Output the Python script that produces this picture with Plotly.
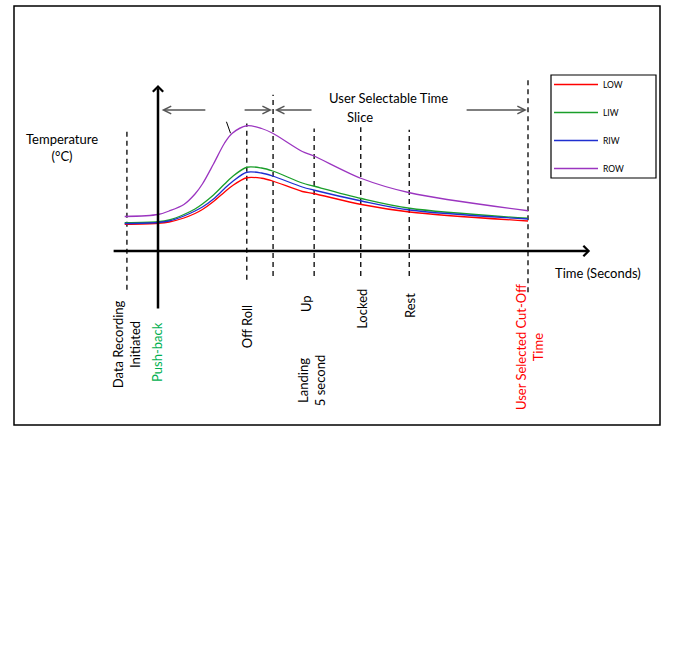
import plotly.graph_objects as go

# time in arbitrary units: push-back = 0, user cut-off = 100
t = [-9, 0, 3, 7, 10, 12, 15, 18, 20, 24, 28, 31, 39, 42, 55, 68, 100]

low = [21.4, 22.2, 23.2, 26.4, 30, 33.2, 39.6, 47.2, 52, 58.6, 58.2, 56, 47.6, 46, 37.2, 31.2, 24]
liw = [22.6, 23.4, 24.8, 29.2, 33.6, 37.6, 44.8, 53.6, 59.2, 67, 66.4, 64, 54.4, 52, 42, 34.2, 26.2]
riw = [22, 22.8, 24, 28, 32, 35.2, 41.6, 50, 55.2, 63, 62.4, 60, 51.2, 48.8, 40, 32.8, 25.6]
row = [27.6, 29.2, 32, 37.2, 45.6, 53.6, 69.6, 86.4, 94, 100.2, 98, 94.2, 79.6, 76.2, 58, 46.6, 32.2]

series_names = ["LOW", "LIW", "RIW", "ROW"]
series_colors = ["#FF0000", "#1A9E2A", "#1F2FD0", "#9B35C0"]

# dashed event lines (time, top, bottom in temperature units)
event_t = [-8.4, 24, 31.1, 42.2, 54.8, 67.9, 100]
event_top = [98, 102, 125, 98, 99, 97, 137]
event_bottom = [-31, -23, -20, -20, -20, -20, -33]

# rotated event labels
label_text = ["Data Recording<br>Initiated", "Push-back", "Off Roll", "Up",
              "Landing<br>5 second", "Locked", "Rest", "User Selected Cut-Off<br>Time"]
label_t = [-8.6, -0.3, 24.1, 40.0, 41.4, 55.1, 68.1, 100.3]
label_T = [-74.4, -80.8, -60.8, -42.4, -104, -46.4, -43.2, -76.8]
label_color = ["black", "#00B050", "black", "black", "black", "black", "black", "#FF0000"]

# "time slice" arrows at the top: (head t, tail t)
slice_arrows = [(1.0, 13.2), (30.8, 23.0), (31.6, 41.9), (99.7, 83.0)]
slice_T = 112.8

# small leader tick near the ROW peak
leader_t = [18.5, 19.6]
leader_T = [103.4, 94.2]

# mapping of the page: pixel = X0 + t * PX_T, temperature = (Y0 - pixel) * T_PX
W, H = 690, 647
X0, PX_T = 158, 3.7
Y0, T_PX = 251, 0.8
x_range = [(0 - X0) / PX_T, (W - X0) / PX_T]
y_range = [(Y0 - H) * T_PX, Y0 * T_PX]

FONT = "Lato, 'Open Sans', sans-serif"

fig = go.Figure()

# dashed event lines
for et, top, bot in zip(event_t, event_top, event_bottom):
    fig.add_trace(
        go.Scatter(
            x=[et, et], y=[bot, top], mode="lines",
            line=dict(color="black", width=1.3, dash="5px,4px"),
            showlegend=False, hoverinfo="skip",
        )
    )

fig.add_trace(
    go.Scatter(
        x=leader_t, y=leader_T, mode="lines",
        line=dict(color="black", width=1),
        showlegend=False, hoverinfo="skip",
    )
)

# temperature curves
for name, values, color in zip(series_names, [low, liw, riw, row], series_colors):
    fig.add_trace(
        go.Scatter(
            name=name, x=t, y=values, mode="lines", legendgroup=name,
            line=dict(color=color, width=1.3, shape="spline", smoothing=0.9),
        )
    )

# axes with arrows
fig.add_annotation(x=116.8, y=0, ax=-12.4, ay=0, axref="x", ayref="y", text="",
                   showarrow=True, arrowhead=4, arrowsize=0.8, arrowwidth=2.5,
                   arrowcolor="black")
fig.add_annotation(x=0, y=132.8, ax=0, ay=-47.2, axref="x", ayref="y", text="",
                   showarrow=True, arrowhead=4, arrowsize=0.8, arrowwidth=2.5,
                   arrowcolor="black")

for head, tail in slice_arrows:
    fig.add_annotation(x=head, y=slice_T, ax=tail, ay=slice_T, axref="x", ayref="y",
                       text="", showarrow=True, arrowhead=5, arrowsize=1.1,
                       arrowwidth=1.4, arrowcolor="#555555")

for txt, lt, lT, col in zip(label_text, label_t, label_T, label_color):
    fig.add_annotation(x=lt, y=lT, text=txt, textangle=-90, showarrow=False,
                       font=dict(family=FONT, size=13, color=col))

fig.add_annotation(x=-25.9, y=83.2, text="Temperature<br>(°C)", showarrow=False,
                   font=dict(family=FONT, size=13, color="black"))
fig.add_annotation(x=118.9, y=-17.6, text="Time (Seconds)", showarrow=False,
                   font=dict(family=FONT, size=13, color="black"))
fig.add_annotation(x=62.2, y=122.4, text="User Selectable Time", showarrow=False,
                   font=dict(family=FONT, size=13, color="black"))
fig.add_annotation(x=54.6, y=107.2, text="Slice", showarrow=False,
                   font=dict(family=FONT, size=13, color="black"))

# outer frame and legend frame
fig.add_shape(type="rect", xref="paper", yref="paper",
              x0=14 / W, x1=660 / W, y0=1 - 425 / H, y1=1 - 6 / H,
              line=dict(color="black", width=1.5))
fig.add_shape(type="rect", xref="paper", yref="paper",
              x0=551 / W, x1=656 / W, y0=1 - 178 / H, y1=1 - 75 / H,
              line=dict(color="black", width=1.2))

fig.update_layout(
    width=W, height=H, autosize=False,
    margin=dict(l=0, r=0, t=0, b=0),
    paper_bgcolor="white", plot_bgcolor="white",
    xaxis=dict(range=x_range, visible=False, fixedrange=True),
    yaxis=dict(range=y_range, visible=False, fixedrange=True),
    showlegend=True,
    legend=dict(
        x=549 / W, y=1 - 70 / H, xanchor="left", yanchor="top",
        borderwidth=0, bgcolor="rgba(0,0,0,0)",
        font=dict(family=FONT, size=8.5, color="black"),
        tracegroupgap=9, itemwidth=44,
    ),
)

fig.write_html(
    "out.html",
    config={"displayModeBar": False},
    post_script="document.body.style.margin = '0';",
)
